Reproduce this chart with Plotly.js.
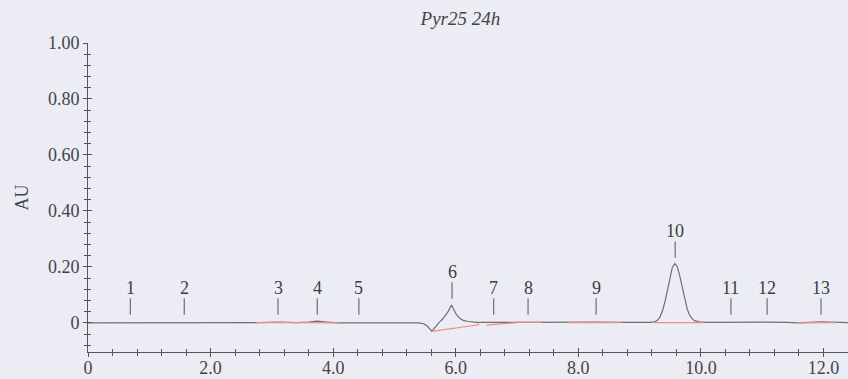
<!DOCTYPE html>
<html>
<head>
<meta charset="utf-8">
<script src="https://cdn.plot.ly/plotly-3.0.1.min.js"></script>
<style>html,body{margin:0;padding:0;background:#ececf4;}#chart{width:848px;height:379px;}</style>
</head>
<body>
<div id="chart"></div>
<script>
// Chromatogram trace (retention time in min, absorbance in AU)
const timeVals = [0.00, 0.50, 0.69, 0.80, 1.57, 2.50, 2.80, 3.10, 3.40, 3.60, 3.74, 3.90, 4.10, 4.42, 5.00, 5.40,
  5.48, 5.54, 5.58, 5.61, 5.64, 5.68, 5.73, 5.78, 5.83, 5.88, 5.93, 5.97, 6.01, 6.06, 6.12, 6.20, 6.35, 6.60,
  7.18, 7.50, 8.29, 8.80, 9.175, 9.255, 9.295, 9.335, 9.375, 9.415, 9.455, 9.495, 9.535, 9.575, 9.615, 9.655,
  9.695, 9.735, 9.775, 9.815, 9.855, 9.895, 9.975, 10.075, 10.49, 10.80, 11.08, 11.40, 11.60, 11.96, 12.20, 12.40];
const auVals = [0.000, 0.000, 0.001, 0.000, 0.000, 0.000, 0.001, 0.003, 0.001, 0.003, 0.006, 0.003, 0.000, 0.000, 0.000, 0.000,
  -0.003, -0.012, -0.022, -0.030, -0.022, -0.010, 0.002, 0.012, 0.026, 0.042, 0.064, 0.046, 0.030, 0.017, 0.009, 0.005, 0.002, 0.002,
  0.003, 0.002, 0.003, 0.002, 0.002, 0.005, 0.010, 0.022, 0.044, 0.077, 0.120, 0.165, 0.199, 0.212, 0.200, 0.168,
  0.126, 0.084, 0.051, 0.028, 0.015, 0.008, 0.004, 0.002, 0.003, 0.002, 0.003, 0.002, 0.000, 0.004, 0.001, 0.001];

// Integration baselines (null separates segments)
const baseTime = [2.75, 3.45, null, 3.45, 4.10, null, 5.61, 6.37, 6.37, null, 6.50, 7.00, null, 7.00, 7.40, null,
  7.85, 8.70, null, 9.22, 10.03, null, 11.55, 12.20];
const baseAU = [0.001, 0.001, null, 0.001, 0.000, null, -0.030, -0.007, 0.002, null, -0.008, 0.001, null, 0.002, 0.002, null,
  0.001, 0.001, null, 0.001, 0.001, null, 0.000, 0.001];

// Peak labels
const peakNames = ['1','2','3','4','5','6','7','8','9','10','11','12','13'];
const peakTimes = [0.69, 1.57, 3.10, 3.74, 4.42, 5.94, 6.62, 7.18, 8.29, 9.58, 10.49, 11.08, 11.96];
const peakLabelAU = [0.029, 0.029, 0.029, 0.029, 0.029, 0.086, 0.029, 0.029, 0.029, 0.232, 0.029, 0.029, 0.029];

// Axis tick labels
const xTickVals = [0, 2, 4, 6, 8, 10, 12];
const xTickText = ['0', '2.0', '4.0', '6.0', '8.0', '10.0', '12.0'];
const yTickVals = [0, 0.2, 0.4, 0.6, 0.8, 1.0];
const yTickText = ['0', '0.20', '0.40', '0.60', '0.80', '1.00'];

const chartTitle = 'Pyr25 24h';
const yTitle = 'AU';

const ink = '#555559';
const txt = '#444448';
const serif = '"Liberation Serif", "DejaVu Serif", serif';
const xRange = [0, 12.4];
const yRange = [-0.104, 1.0];

const traces = [
  {x: timeVals, y: auVals, type: 'scatter', mode: 'lines', line: {color: '#6e6e72', width: 1.2}, hoverinfo: 'skip', xaxis: 'x', yaxis: 'y'},
  {x: baseTime, y: baseAU, type: 'scatter', mode: 'lines', line: {color: '#ee9277', width: 1.2}, connectgaps: false, hoverinfo: 'skip', xaxis: 'x2', yaxis: 'y2'}
];

const annotations = peakNames.map((n, i) => ({
  x: peakTimes[i], y: peakLabelAU[i], xref: 'x', yref: 'y', text: n,
  showarrow: true, arrowhead: 0, arrowwidth: 1, arrowcolor: ink, ax: 0, ay: -27, borderpad: 0,
  font: {family: serif, size: 18, color: '#3c3c40'}
}));

const axBase = {showgrid: false, zeroline: false, showline: true, linecolor: ink, linewidth: 1, tickcolor: ink, tickwidth: 1};

const layout = {
  width: 848, height: 379,
  margin: {l: 88, r: 0, t: 43, b: 27},
  paper_bgcolor: '#ececf4', plot_bgcolor: '#ececf4',
  showlegend: false,
  font: {family: serif, size: 18, color: txt},
  title: {text: '<i>' + chartTitle + '</i>', x: 0.49, xref: 'paper', y: 0.952, yref: 'container', yanchor: 'middle',
          font: {family: serif, size: 19, color: txt}},
  xaxis: Object.assign({}, axBase, {range: xRange, tickmode: 'array', tickvals: xTickVals, ticktext: xTickText,
          ticks: 'outside', ticklen: 4, ticklabelstandoff: -5,
          minor: {tickmode: 'linear', tick0: 0, dtick: 0.4, ticks: 'outside', ticklen: 3, tickcolor: ink},
          tickfont: {family: serif, size: 18, color: txt}, anchor: 'y'}),
  yaxis: Object.assign({}, axBase, {range: yRange, tickmode: 'array', tickvals: yTickVals, ticktext: yTickText,
          ticks: 'outside', ticklen: 4,
          minor: {tickmode: 'linear', tick0: 0, dtick: 0.04, ticks: 'outside', ticklen: 3, tickcolor: ink},
          tickfont: {family: serif, size: 18, color: txt}, anchor: 'x',
          title: {text: yTitle, standoff: 14, font: {family: serif, size: 18, color: txt}}}),
  xaxis2: Object.assign({}, axBase, {range: xRange, overlaying: 'x', anchor: 'y2', side: 'bottom', showticklabels: false,
          tickmode: 'linear', tick0: 0, dtick: 2, ticks: 'inside', ticklen: 4,
          minor: {tickmode: 'linear', tick0: 0, dtick: 0.4, ticks: 'inside', ticklen: 3, tickcolor: ink}}),
  yaxis2: Object.assign({}, axBase, {range: yRange, overlaying: 'y', anchor: 'x2', side: 'left', showticklabels: false,
          tickmode: 'linear', tick0: 0, dtick: 0.2, ticks: 'inside', ticklen: 4,
          minor: {tickmode: 'linear', tick0: 0, dtick: 0.04, ticks: 'inside', ticklen: 3, tickcolor: ink}}),
  annotations: annotations
};

Plotly.newPlot('chart', traces, layout, {staticPlot: true, displayModeBar: false});
</script>
</body>
</html>
